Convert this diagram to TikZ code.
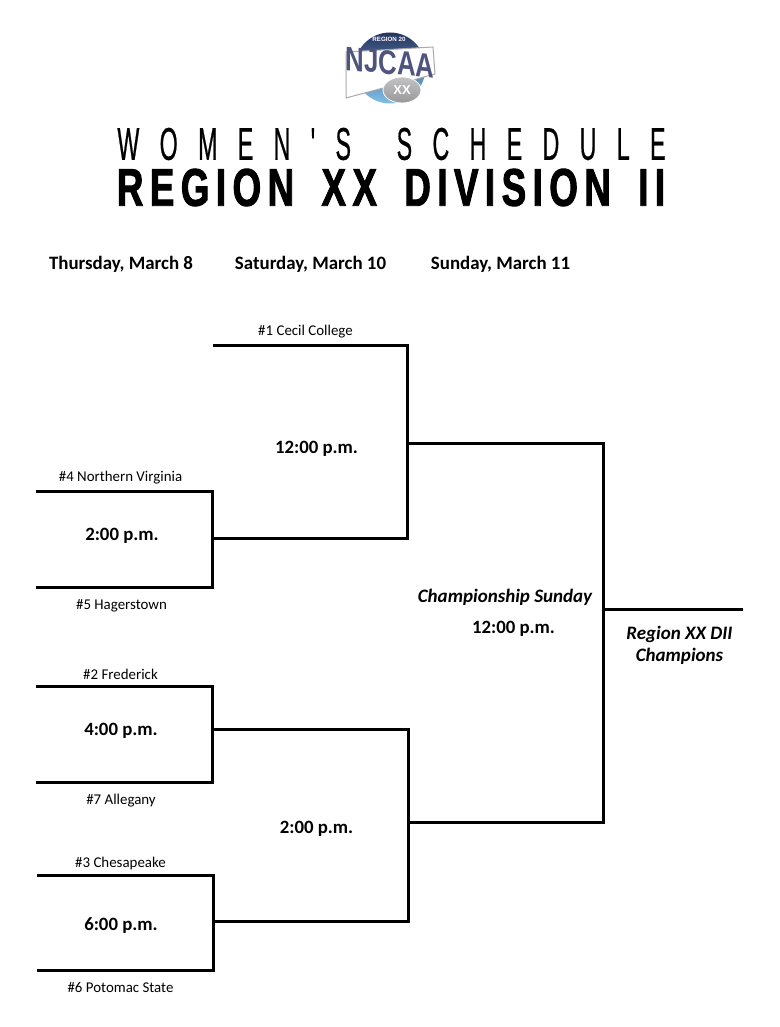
\documentclass[tikz,border=0pt]{standalone}
\usepackage{fontspec}
\setmainfont{Carlito}
\newfontfamily\titlethin[FakeStretch=0.66,LetterSpace=58,FakeBold=0.6]{Liberation Sans}
\newfontfamily\titlebold[FakeStretch=0.74,LetterSpace=13,FakeBold=1.8]{Liberation Sans Bold}
\newfontfamily\logofont{Liberation Sans Bold}
\definecolor{logonavy}{HTML}{26335F}
\definecolor{logoblue}{HTML}{3F8FD2}
\definecolor{logolight}{HTML}{7FC0EA}
\definecolor{logosteel}{HTML}{4F547E}
\definecolor{logogrey}{HTML}{A9A9AB}
\tikzset{
  bracket/.style={draw=black,line width=3pt,line join=miter},
  team/.style={font=\fontsize{14.9}{17}\selectfont,inner sep=0pt,anchor=center},
  gametime/.style={font=\fontsize{18.8}{22}\bfseries\selectfont,inner sep=0pt,anchor=center},
  dayhead/.style={font=\fontsize{18.9}{22}\bfseries\selectfont,inner sep=0pt,anchor=center},
  italichead/.style={font=\fontsize{19}{22}\bfseries\itshape\selectfont,inner sep=0pt,anchor=center,align=center},
}
\begin{document}
\begin{tikzpicture}[x=1pt,y=-1pt]
\useasboundingbox (0,0) rectangle (779,1027);
% logo
\shade[top color=logonavy,middle color=logoblue,bottom color=logolight] (390,68) circle (35.5);
\node[inner sep=0pt,text=white] (logotop) at (389,39.5) {\logofont\fontsize{6.2}{7}\selectfont REGION 20};
\fill[white,draw=logogrey,line width=1pt] (346,52) -- (433,47) -- (435,74) -- (346,98) -- cycle;
\node[inner sep=0pt,text=logosteel,transform shape,yslant=-0.09,anchor=center] (logoname) at (390,62.5) {\logofont\fontsize{34}{34}\selectfont\scalebox{0.76}[1]{NJCAA}};
\shade[top color=logogrey!70,bottom color=logogrey!90!black,draw=white,line width=0.8pt] (402,90) ellipse (19 and 13);
\node[inner sep=0pt,text=white] (logoxx) at (402,90) {\logofont\fontsize{13}{14}\selectfont XX};
% title
\node[inner sep=0pt] (title1) at (391.5,144) {\resizebox{548pt}{32pt}{\titlethin WOMEN'S\hspace{1.3em}SCHEDULE}};
\node[inner sep=0pt] (title2) at (391,187.5) {\resizebox{548pt}{37pt}{\titlebold REGION\hspace{0.55em}XX\hspace{0.55em}DIVISION\hspace{0.55em}II}};
% days
\node[dayhead] (day1) at (121,264) {Thursday, March 8};
\node[dayhead] (day2) at (310.5,264) {Saturday, March 10};
\node[dayhead] (day3) at (500.5,264) {Sunday, March 11};
% anchors
\coordinate (a1) at (213,345); \coordinate (a2) at (407,345); \coordinate (a3) at (407,538); \coordinate (a4) at (212,538);
\coordinate (b1) at (36,491); \coordinate (b2) at (212,491); \coordinate (b3) at (212,587); \coordinate (b4) at (36,587);
\coordinate (c1) at (36,686); \coordinate (c2) at (212,686); \coordinate (c3) at (212,782); \coordinate (c4) at (36,782);
\coordinate (d1) at (37,875); \coordinate (d2) at (213,875); \coordinate (d3) at (213,970); \coordinate (d4) at (37,970);
\coordinate (e1) at (214,729); \coordinate (e2) at (408,729); \coordinate (e3) at (408,921); \coordinate (e4) at (214,921);
\coordinate (f1) at (409,443); \coordinate (f2) at (603,443); \coordinate (f3) at (603,822); \coordinate (f4) at (409,822);
\coordinate (g1) at (603,609); \coordinate (g2) at (743,609);
\draw[bracket] (a1) -- (a2) -- (a3) -- (a4);
\draw[bracket] (b1) -- (b2) -- (b3) -- (b4);
\draw[bracket] (c1) -- (c2) -- (c3) -- (c4);
\draw[bracket] (d1) -- (d2) -- (d3) -- (d4);
\draw[bracket] (e1) -- (e2) -- (e3) -- (e4);
\draw[bracket] (f1) -- (f2) -- (f3) -- (f4);
\draw[bracket] (g1) -- (g2);
% teams
\node[team] (t1) at (305.5,332) {\#1 Cecil College};
\node[team] (t4) at (120.5,478) {\#4 Northern Virginia};
\node[team] (t5) at (121.5,606) {\#5 Hagerstown};
\node[team] (t2) at (120.5,674) {\#2 Frederick};
\node[team] (t7) at (121,801) {\#7 Allegany};
\node[team] (t3) at (120.5,864) {\#3 Chesapeake};
\node[team] (t6) at (120.5,988) {\#6 Potomac State};
% times
\node[gametime] (g12a) at (316.5,449) {12:00 p.m.};
\node[gametime] (g2a) at (122,536) {2:00 p.m.};
\node[gametime] (g4) at (121,731) {4:00 p.m.};
\node[gametime] (g2b) at (316.5,829) {2:00 p.m.};
\node[gametime] (g6) at (121,926) {6:00 p.m.};
\node[italichead] (champ) at (505,597) {Championship Sunday};
\node[gametime] (g12b) at (513.5,629) {12:00 p.m.};
\node[italichead] (winner) at (679.5,645) {Region XX DII\\Champions};
\end{tikzpicture}
\end{document}
